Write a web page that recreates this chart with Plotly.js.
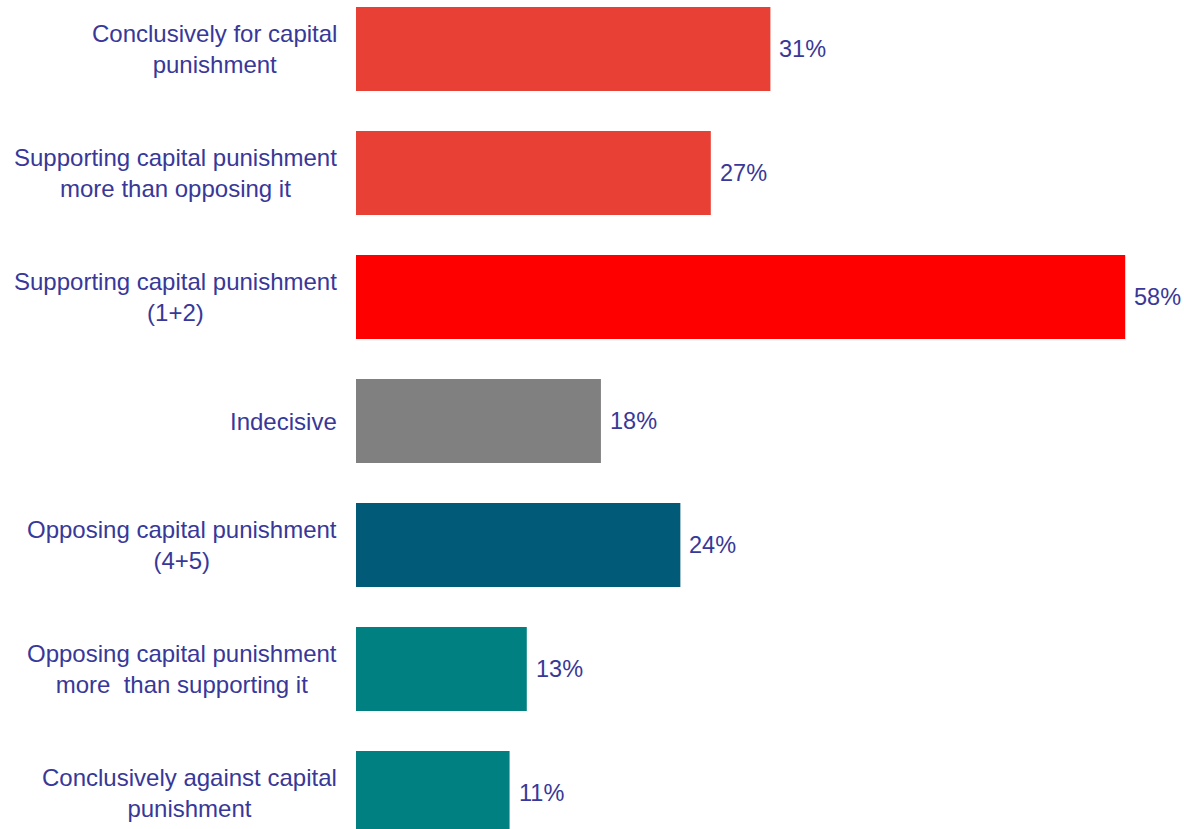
<!DOCTYPE html>
<html>
<head>
<meta charset="utf-8">
<script src="https://cdn.plot.ly/plotly-3.0.1.min.js"></script>
<style>html,body{margin:0;padding:0;background:#fff;}#chart{width:1184px;height:829px;}</style>
</head>
<body>
<div id="chart"></div>
<script>
var categories = [
  "Conclusively for capital<br>punishment",
  "Supporting capital punishment<br>more than opposing it",
  "Supporting capital punishment<br>(1+2)",
  "Indecisive",
  "Opposing capital punishment<br>(4+5)",
  "Opposing capital punishment<br>more  than supporting it",
  "Conclusively against capital<br>punishment"
];
var values = [31.3, 26.8, 58.1, 18.5, 24.5, 12.9, 11.6];
var valueLabels = ["31%", "27%", "58%", "18%", "24%", "13%", "11%"];
var barColors = ["#E84034", "#E84034", "#FF0000", "#808080", "#005A78", "#008080", "#008080"];

var txtColor = "#383898";
var fontFam = "Liberation Sans, Arial, sans-serif";
var fs = 24;

var idx = categories.map(function(_, i){ return i; });

var trace = {
  type: "bar",
  orientation: "h",
  y: idx,
  x: values,
  marker: {color: barColors, line: {width: 0}},
  width: 0.677,
  hoverinfo: "skip"
};

var annotations = [];
categories.forEach(function(c, i){
  annotations.push({
    xref: "paper", yref: "y", x: 0, y: i,
    xanchor: "right", yanchor: "middle", xshift: -17,
    text: c, showarrow: false, align: "center",
    font: {family: fontFam, size: fs, color: txtColor}
  });
  annotations.push({
    xref: "x", yref: "y", x: values[i], y: i,
    xanchor: "left", yanchor: "middle", xshift: 7,
    text: valueLabels[i], showarrow: false,
    font: {family: fontFam, size: 23.5, color: txtColor}
  });
});

var layout = {
  width: 1184, height: 829,
  margin: {l: 356, r: 0, t: 0, b: 0, pad: 0},
  paper_bgcolor: "#fff", plot_bgcolor: "#fff",
  showlegend: false,
  xaxis: {range: [0, 62.54], visible: false, fixedrange: true},
  yaxis: {range: [6.29, -0.395], visible: false, fixedrange: true},
  annotations: annotations,
  bargap: 0.32
};

Plotly.newPlot("chart", [trace], layout, {displayModeBar: false, staticPlot: true});
</script>
</body>
</html>
